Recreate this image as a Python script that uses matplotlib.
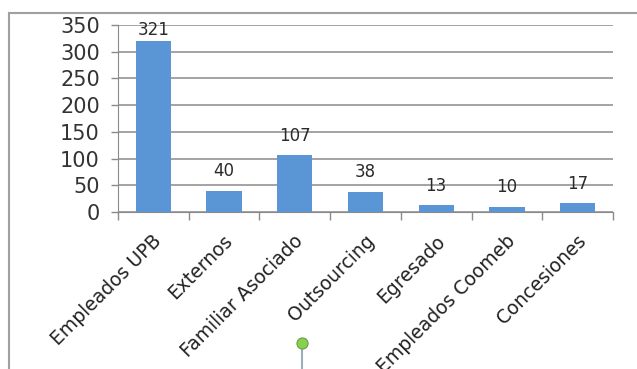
import matplotlib.pyplot as plt
import matplotlib.transforms as mtransforms
import numpy as np
from matplotlib.lines import Line2D

categorias = ["Empleados UPB", "Externos", "Familiar Asociado", "Outsourcing",
              "Egresado", "Empleados Coomeb", "Concesiones"]
valores = [321, 40, 107, 38, 13, 10, 17]
yticks = [0, 50, 100, 150, 200, 250, 300, 350]

color_barra = '#5a96d6'
gris = '#8a8a8a'

fig = plt.figure(figsize=(6.37, 3.69), dpi=100)
ax = fig.add_axes([0.1852, 0.4255, 0.7771, 0.5067])

x = np.arange(len(categorias))
ax.bar(x, valores, width=0.5, color=color_barra, zorder=3)

# etiquetas de valor encima de cada barra (la mas alta queda dentro del area)
for xi, v in zip(x, valores):
    ax.text(xi, min(v + 36, 341), str(v), ha='center', va='center',
            fontsize=12, color='#2a2a2a', zorder=4)

ax.set_xlim(-0.5, len(categorias) - 0.5)
ax.set_ylim(0, 350)
ax.set_yticks(yticks)
ax.set_yticklabels([str(t) for t in yticks], fontsize=15, color='#333333')
ax.yaxis.grid(True, color=gris, linewidth=1.1, zorder=0)

# ticks del eje x en los limites de las categorias
ax.set_xticks(np.arange(-0.5, len(categorias), 1.0))
ax.set_xticklabels([])
ax.set_xticks(x, minor=True)
ax.set_xticklabels(categorias, minor=True, rotation=45, ha='right',
                   rotation_mode='anchor', fontsize=13.5, color='#222222')
ax.tick_params(axis='x', which='minor', length=0, pad=14)
ax.tick_params(axis='x', which='major', length=6, color=gris, width=1)
ax.tick_params(axis='y', length=5, color=gris, width=1, pad=8)
desplaza = mtransforms.ScaledTranslation(-1/100, 0, fig.dpi_scale_trans)
for lbl in ax.get_xticklabels(minor=True):
    lbl.set_transform(lbl.get_transform() + desplaza)

for s in ['top', 'right']:
    ax.spines[s].set_visible(False)
ax.spines['left'].set_color(gris)
ax.spines['bottom'].set_color(gris)

# marco de seleccion del grafico
fig.add_artist(Line2D([9/637, 1], [1 - 13/369, 1 - 13/369], color='#a0a0a0', lw=1.5))
fig.add_artist(Line2D([9/637, 9/637], [0, 1 - 13/369], color='#a0a0a0', lw=1.5))
# manejador verde
fig.add_artist(Line2D([302/637, 302/637], [0, 1 - 349/369], color='#9aaebf', lw=1.5))
fig.add_artist(Line2D([302/637], [1 - 343/369], marker='o', markersize=8,
                      markerfacecolor='#86d34a', markeredgecolor='#6a9a50',
                      markeredgewidth=0.8, linestyle='none'))

fig.savefig('out.png', dpi=100)
